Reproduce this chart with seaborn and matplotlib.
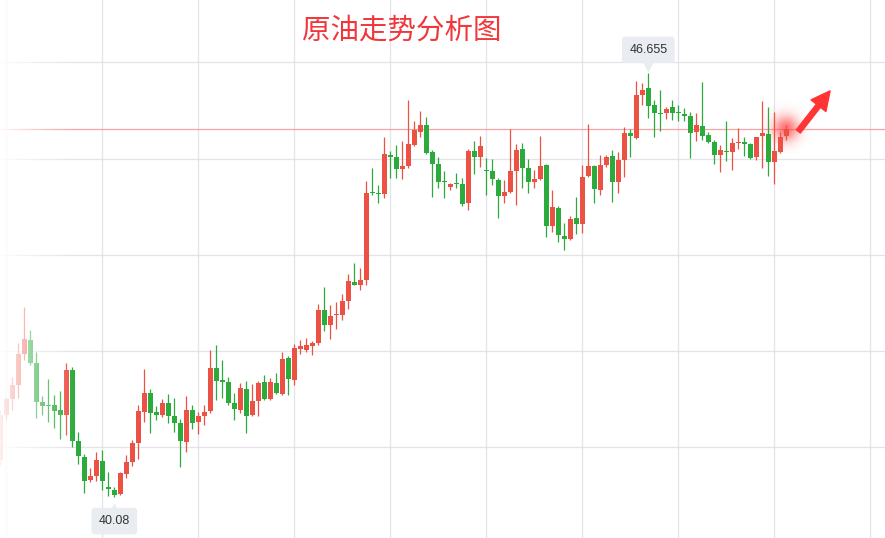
import numpy as np
import pandas as pd
import seaborn as sns
import matplotlib.pyplot as plt
from matplotlib.transforms import offset_copy

# daily candles (price units)
opens = [40.65, 41.35, 41.60, 41.81, 42.30, 42.51, 42.16, 41.55, 41.50, 41.50,
         41.43, 41.35, 42.05, 40.95, 40.70, 40.34, 40.40, 40.63, 40.23, 40.18,
         40.12, 40.43, 40.62, 40.91, 41.40, 41.69, 41.40, 41.35, 41.53, 41.33,
         41.22, 40.93, 41.43, 41.24, 41.33, 41.41, 42.08, 41.89, 41.86, 41.53,
         41.43, 41.75, 41.35, 41.57, 41.86, 41.60, 41.85, 41.67, 42.23, 41.89,
         42.37, 42.36, 42.42, 42.47, 42.98, 42.75, 42.90, 42.90, 43.12, 43.41,
         43.37, 43.44, 44.81, 44.79, 44.78, 45.38, 45.35, 45.17, 45.21, 45.54,
         45.74, 45.85, 45.43, 45.24, 44.98, 44.89, 44.95, 44.93, 44.64, 45.44,
         45.35, 45.15, 45.13, 44.99, 44.75, 44.81, 45.13, 45.48, 45.18, 44.96,
         45.01, 45.23, 44.28, 44.56, 44.13, 44.08, 44.40, 44.31, 45.06, 45.21,
         44.84, 45.23, 45.37, 44.96, 45.31, 45.72, 45.65, 46.31, 46.42, 46.16,
         46.03, 46.03, 46.13, 46.05, 46.02, 45.99, 45.74, 45.83, 45.69, 45.58,
         45.38, 45.44, 45.43, 45.57, 45.58, 45.55, 45.35, 45.68, 45.71, 45.27,
         45.43, 45.68]
highs = [41.43, 41.63, 41.94, 42.47, 43.02, 42.67, 42.33, 41.64, 41.91, 41.66,
         41.72, 42.16, 42.09, 41.08, 40.74, 40.53, 40.77, 40.81, 40.46, 40.23,
         40.46, 40.73, 40.96, 41.50, 42.06, 41.75, 41.49, 41.60, 41.67, 41.61,
         41.29, 41.64, 41.50, 41.40, 41.50, 42.36, 42.43, 42.20, 41.94, 41.69,
         41.85, 41.88, 41.83, 41.88, 41.97, 41.92, 42.00, 42.33, 42.26, 42.45,
         42.51, 42.54, 42.50, 43.07, 43.33, 43.06, 43.10, 43.23, 43.54, 43.71,
         43.63, 44.98, 45.18, 44.92, 45.66, 45.44, 45.54, 45.60, 46.24, 45.91,
         46.07, 45.97, 45.46, 45.35, 45.13, 44.95, 45.10, 45.03, 45.48, 45.60,
         45.68, 45.34, 45.32, 45.03, 44.99, 45.79, 45.55, 45.57, 45.32, 45.15,
         45.68, 45.24, 44.84, 44.59, 44.33, 44.44, 44.73, 45.23, 45.86, 45.23,
         45.38, 45.38, 45.46, 45.43, 45.82, 45.79, 46.53, 46.50, 46.655, 46.24,
         46.39, 46.13, 46.24, 46.16, 46.11, 46.05, 46.03, 46.52, 45.74, 45.62,
         45.54, 45.91, 45.65, 45.80, 45.66, 45.57, 45.67, 46.22, 46.13, 46.05,
         45.74, 45.85]
lows = [40.57, 41.27, 41.43, 41.61, 42.20, 42.12, 41.30, 41.35, 41.24, 41.15,
        40.98, 41.04, 40.85, 40.59, 40.14, 40.31, 40.32, 40.18, 40.09, 40.08,
        40.11, 40.37, 40.56, 40.67, 41.24, 41.07, 41.27, 41.32, 41.22, 41.08,
        40.54, 40.77, 41.13, 41.05, 41.19, 41.38, 41.58, 41.61, 41.50, 41.27,
        41.38, 41.07, 41.33, 41.33, 41.58, 41.58, 41.67, 41.66, 41.66, 41.81,
        42.30, 42.33, 42.28, 42.43, 42.65, 42.53, 42.68, 42.82, 42.99, 43.37,
        43.29, 43.37, 44.76, 44.64, 44.72, 45.03, 45.03, 45.01, 45.18, 45.52,
        45.66, 45.40, 44.73, 44.87, 44.72, 44.84, 44.87, 44.59, 44.53, 45.09,
        45.20, 44.76, 44.92, 44.40, 44.64, 44.80, 44.61, 44.87, 44.79, 44.87,
        44.99, 44.11, 44.19, 44.03, 43.91, 44.06, 44.16, 44.17, 45.05, 44.64,
        44.76, 45.20, 44.65, 44.79, 45.04, 45.35, 45.64, 46.16, 45.96, 45.66,
        45.75, 45.94, 45.93, 45.91, 45.91, 45.34, 45.60, 45.62, 45.57, 45.24,
        45.12, 45.29, 45.15, 45.48, 45.37, 45.32, 45.31, 45.18, 45.06, 44.93,
        45.42, 45.62]
closes = [41.35, 41.60, 41.81, 42.30, 42.53, 42.16, 41.55, 41.49, 41.49, 41.41,
          41.35, 42.05, 40.95, 40.71, 40.32, 40.40, 40.65, 40.32, 40.20, 40.11,
          40.45, 40.62, 40.91, 41.41, 41.69, 41.38, 41.35, 41.53, 41.33, 41.22,
          40.95, 41.43, 41.22, 41.33, 41.40, 42.08, 41.88, 41.86, 41.53, 41.44,
          41.77, 41.33, 41.57, 41.85, 41.60, 41.86, 41.69, 42.22, 41.91, 42.39,
          42.42, 42.43, 42.47, 42.98, 42.75, 42.89, 42.92, 43.12, 43.43, 43.37,
          43.44, 44.79, 44.79, 44.78, 45.40, 45.35, 45.17, 45.21, 45.55, 45.77,
          45.85, 45.41, 45.24, 44.96, 44.96, 44.93, 44.93, 44.62, 45.44, 45.35,
          45.52, 45.13, 45.01, 44.75, 44.81, 45.13, 45.46, 45.18, 44.96, 45.01,
          45.21, 44.28, 44.58, 44.14, 44.08, 44.39, 44.31, 45.04, 45.21, 44.85,
          45.23, 45.35, 44.96, 45.31, 45.72, 45.68, 46.31, 46.39, 46.14, 46.03,
          46.02, 46.10, 46.03, 46.03, 45.99, 45.72, 45.85, 45.68, 45.58, 45.38,
          45.46, 45.43, 45.57, 45.58, 45.55, 45.34, 45.66, 45.72, 45.27, 45.44,
          45.66, 45.79]

title = "原油走势分析图"
grid_prices = [40.86, 42.35, 43.84, 45.33, 46.82]

UP = "#ec5244"
DOWN = "#2aab3b"

sns.set_theme(style="white")
plt.rcParams["font.family"] = ["Noto Sans CJK SC", "DejaVu Sans"]

df = pd.DataFrame(dict(open=opens, high=highs, low=lows, close=closes))
df["idx"] = np.arange(len(df))
df["up"] = df["close"] >= df["open"]
df["color"] = np.where(df["up"], UP, DOWN)
df["bottom"] = df[["open", "close"]].min(axis=1)
df["body"] = (df["close"] - df["open"]).abs().clip(lower=0.015)

fig = plt.figure(figsize=(8.85, 5.38), dpi=100)
ax = fig.add_axes([0, 0, 1, 1])

xlim = (-0.05, 147.45)
ylim = (39.44, 47.79)

# grid
ax.set_xticks(np.arange(1, 147, 16))
ax.set_yticks(grid_prices)
ax.grid(True, color="#e3e3e9", lw=0.9)
ax.tick_params(labelbottom=False, labelleft=False, length=0)
sns.despine(ax=ax, left=True, bottom=True)

last = df.iloc[-1]
ax.axhline(last["close"], color="#f6a3a3", lw=0.9, zorder=1)

# glow behind the latest candle
gx, gy = np.meshgrid(np.linspace(-1, 1, 121), np.linspace(-1, 1, 121))
r = np.hypot(gx, gy)
glow = np.zeros((121, 121, 4))
glow[..., 0], glow[..., 1], glow[..., 2] = 1.0, 0.22, 0.22
glow[..., 3] = 0.7 * np.exp(-(r / 0.42) ** 2)
ax.imshow(glow, extent=(last["idx"] - 5, last["idx"] + 5,
                        last["close"] - 0.47, last["close"] + 0.47),
          aspect="auto", zorder=1.5, interpolation="bilinear")

# candles
ax.vlines(df["idx"], df["low"], df["high"], colors=df["color"], lw=0.9, zorder=2)
ax.bar(df["idx"], df["body"], bottom=df["bottom"], width=0.8,
       color=df["color"], lw=0, zorder=2.5)

# left fade-out
t = np.linspace(0, 1, 256)
fade = np.ones((1, 256, 4))
fade[..., 3] = 0.92 * (1 - t) ** 1.1
ax.imshow(fade, extent=(xlim[0], 12.5, ylim[0], ylim[1]), aspect="auto",
          zorder=3, interpolation="bilinear")

# arrow
ax.annotate("", xy=(last["idx"] + 7.3, last["close"] + 0.59),
            xytext=(last["idx"] + 2.0, last["close"] - 0.04),
            arrowprops=dict(arrowstyle="simple,head_length=0.8,head_width=0.8,tail_width=0.22",
                            color="#ff3535", mutation_scale=17, shrinkA=0, shrinkB=0),
            zorder=5)

# high / low callouts (pointer triangles sit under the label boxes)
box = dict(boxstyle="round,pad=0.58,rounding_size=0.25", fc="#e9ecf0", ec="none")
hi = int(df["high"].idxmax())
lo = int(df["low"].idxmin())
ax.plot(hi, df["high"][hi], marker="v", ms=10.5, color="#e9ecf0", zorder=5.5,
        transform=offset_copy(ax.transData, fig=fig, x=0, y=6.3, units="points"))
ax.plot(lo, df["low"][lo], marker="^", ms=10.5, color="#e9ecf0", zorder=5.5,
        transform=offset_copy(ax.transData, fig=fig, x=0, y=-9.9, units="points"))
ax.annotate(f"{df['high'][hi]:.3f}", xy=(hi, df["high"][hi]), xytext=(0, 16.8),
            textcoords="offset points", ha="center", va="center", fontsize=9,
            color="#333333", family="Liberation Sans", bbox=box, zorder=6)
ax.annotate(f"{df['low'][lo]:.2f}", xy=(lo, df["low"][lo]), xytext=(0, -17.5),
            textcoords="offset points", ha="center", va="center", fontsize=9,
            color="#333333", family="Liberation Sans", bbox=box, zorder=6)

ax.set_xlim(xlim)
ax.set_ylim(ylim)

fig.text(402 / 885, 1 - 31 / 538, title, ha="center", va="center",
         fontsize=20.5, color="#f0383c")

fig.savefig("out.png", dpi=100)
